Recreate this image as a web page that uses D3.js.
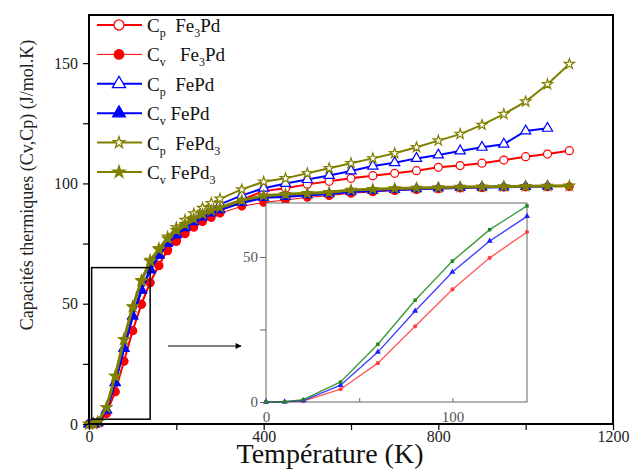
<!DOCTYPE html>
<html><head><meta charset="utf-8">
<script src="https://cdn.jsdelivr.net/npm/d3@7"></script>
<style>body{margin:0;background:#fff;} svg{display:block;font-family:"Liberation Serif","Times New Roman",serif;}</style>
</head><body><svg id="c" width="632" height="471"></svg>
<script>
// ---- data ----
const temps = [0,10,20,40,60,80,100,120,140,160,180,200,220,240,260,280,300,350,400,450,500,550,600,650,700,750,800,850,900,950,1000,1050,1100];
const cvFe3Pd = [0,0.05,0.3,4.4,13.4,26.1,38.8,49.7,58.6,65.7,72.0,75.8,79.0,81.7,84.1,85.8,87.6,90.5,92.1,93.1,94.2,94.9,95.9,96.5,97.0,97.4,97.7,98.0,98.2,98.4,98.5,98.6,98.7];
const cpFe3Pd = [0,0.05,0.3,4.4,13.4,26.1,38.8,49.8,58.8,66.0,72.4,76.3,79.7,82.6,85.2,87.1,89.2,93.2,96.8,98.0,99.6,100.9,102.1,103.2,104.2,105.3,106.7,107.4,108.4,109.7,111.1,112.2,113.6];
const cvFePd = [0,0.08,0.5,5.8,17.2,31.4,44.8,55.5,64.0,70.0,75.0,78.5,81.5,84.0,86.0,87.6,89.0,92.0,94.1,94.5,95.2,95.6,96.5,97.0,97.4,97.7,98.0,98.2,98.4,98.5,98.7,98.8];
const cpFePd = [0,0.08,0.5,5.8,17.2,31.4,44.9,55.7,64.3,70.4,75.6,79.3,82.5,85.3,87.6,89.5,91.3,95.0,98.0,100.0,101.6,103.3,105.2,107.2,108.6,110.4,111.8,113.5,115.0,116.3,121.8,122.9];
const cvFePd3 = [0,0.1,0.8,6.9,19.9,35.1,48.6,59.4,67.6,72.5,77.0,80.5,83.0,85.3,87.2,88.7,90.0,93.0,94.9,95.5,95.9,96.3,97.3,97.6,97.9,98.1,98.3,98.5,98.6,98.7,98.8,98.9,99.0];
const cpFePd3 = [0,0.1,0.8,6.9,19.9,35.2,48.8,59.8,68.2,73.0,77.8,81.7,84.8,87.5,89.8,91.8,93.6,97.5,100.7,102.1,104.2,106.3,108.4,110.4,112.5,115.0,117.8,120.5,124.3,128.8,134.0,141.2,149.6];
const xTicks = [0,400,800,1200];
const yTicks = [0,50,100,150];
const insetXTicks = [0,100];
const insetYTicks = [0,50];
const zoomBox = {t0:6, t1:140, v0:2, v1:65};

const series = [
  {sub:"p", mat:"Fe", matSub:"3", mat2:"Pd", vals:cpFe3Pd, color:"#ff0000", lw:2, sym:d3.symbolCircle, fill:"#fff", size:50, lsize:80, gap:"  "},
  {sub:"v", mat:"Fe", matSub:"3", mat2:"Pd", vals:cvFe3Pd, color:"#ff0000", lw:1, sym:d3.symbolCircle, fill:"#ff0000", size:45, lsize:70, gap:"   "},
  {sub:"p", mat:"FePd", matSub:"", mat2:"", vals:cpFePd, color:"#0000ff", lw:2, sym:d3.symbolTriangle, fill:"#fff", size:45, lsize:75, gap:"  "},
  {sub:"v", mat:"FePd", matSub:"", mat2:"", vals:cvFePd, color:"#0000ff", lw:2.5, sym:d3.symbolTriangle, fill:"#0000ff", size:40, lsize:70, gap:" "},
  {sub:"p", mat:"FePd", matSub:"3", mat2:"", vals:cpFePd3, color:"#808000", lw:2, sym:d3.symbolStar, fill:"#fff", size:32, lsize:40, gap:"  "},
  {sub:"v", mat:"FePd", matSub:"3", mat2:"", vals:cvFePd3, color:"#808000", lw:3, sym:d3.symbolStar, fill:"#808000", size:32, lsize:45, gap:" "}
];
const insetSeries = [
  {vals:cvFe3Pd, color:"#ff4040", sym:d3.symbolCircle, size:14},
  {vals:cvFePd, color:"#2020ff", sym:d3.symbolTriangle, size:16},
  {vals:cvFePd3, color:"#1a8a1a", sym:d3.symbolSquare, size:12}
];

const svg = d3.select("#c");
const x = d3.scaleLinear().domain([0,1200]).range([89,613]);
const y = d3.scaleLinear().domain([0,170]).range([424,15]);

// data area
const pts = vals => vals.map((v,i)=>[temps[i],v]);
const line = d3.line().x(d=>x(d[0])).y(d=>y(d[1]));
series.forEach(s=>{
  svg.append("path").attr("d",line(pts(s.vals))).attr("fill","none").attr("stroke",s.color).attr("stroke-width",s.lw);
  svg.append("g").selectAll("path").data(pts(s.vals)).join("path")
    .attr("transform",d=>`translate(${x(d[0])},${y(d[1])})`)
    .attr("d",d3.symbol().type(s.sym).size(s.size))
    .attr("fill",s.fill).attr("stroke",s.color).attr("stroke-width",1.2);
});

// zoom rectangle
svg.append("rect").attr("x",x(zoomBox.t0)).attr("y",y(zoomBox.v1))
  .attr("width",x(zoomBox.t1)-x(zoomBox.t0)).attr("height",y(zoomBox.v0)-y(zoomBox.v1))
  .attr("fill","none").attr("stroke","#000").attr("stroke-width",1.5);
// arrow
svg.append("defs").append("marker").attr("id","ah").attr("viewBox","0 0 10 10").attr("refX",9).attr("refY",5)
  .attr("markerWidth",8).attr("markerHeight",6).attr("markerUnits","userSpaceOnUse").attr("orient","auto")
  .append("path").attr("d","M0,0L10,5L0,10z").attr("fill","#000");
svg.append("line").attr("x1",168).attr("y1",346).attr("x2",241).attr("y2",346).attr("stroke","#000").attr("stroke-width",1).attr("marker-end","url(#ah)");

// axes
const xa = svg.append("g").attr("transform","translate(0,424)")
  .call(d3.axisBottom(x).tickValues(d3.range(0,1201,200)).tickSize(6).tickFormat(d=>xTicks.includes(d)?d:""));
const ya = svg.append("g").attr("transform","translate(89,0)")
  .call(d3.axisLeft(y).tickValues(d3.range(0,151,25)).tickSize(6).tickFormat(d=>yTicks.includes(d)?d:""));
[xa,ya].forEach(a=>{a.select(".domain").remove(); a.selectAll("line").attr("stroke","#000").attr("stroke-width",1.2);
  a.selectAll("text").attr("font-family","Liberation Serif").attr("font-size",16).attr("fill","#222");});
xa.selectAll("text").attr("y",7);
ya.selectAll("text").attr("x",-11);
svg.append("rect").attr("x",89).attr("y",15).attr("width",524).attr("height",409).attr("fill","none").attr("stroke","#000").attr("stroke-width",2);

// inset
const ix = d3.scaleLinear().domain([0,140]).range([266,527]);
const iy = d3.scaleLinear().domain([0,68.6]).range([402,203]);
const ig = svg.append("g");
ig.append("rect").attr("x",266).attr("y",203).attr("width",261).attr("height",199).attr("fill","#fff").attr("stroke","#666").attr("stroke-width",1);
const ipts = vals => vals.slice(0,9).map((v,i)=>[temps[i],v]);
const iline = d3.line().x(d=>ix(d[0])).y(d=>iy(d[1]));
insetSeries.forEach(s=>{
  ig.append("path").attr("d",iline(ipts(s.vals))).attr("fill","none").attr("stroke",s.color).attr("stroke-width",1.4).attr("stroke-opacity",0.85);
  ig.append("g").selectAll("path").data(ipts(s.vals)).join("path")
    .attr("transform",d=>`translate(${ix(d[0])},${iy(d[1])})`)
    .attr("d",d3.symbol().type(s.sym).size(s.size)).attr("fill",s.color);
});
const ixa = ig.append("g").attr("transform","translate(0,402)")
  .call(d3.axisTop(ix).tickValues([0,50,100]).tickSize(4).tickFormat(""));
const ixl = ig.append("g").attr("transform","translate(0,402)")
  .call(d3.axisBottom(ix).tickValues(insetXTicks).tickSize(0).tickPadding(9));
const iya = ig.append("g").attr("transform","translate(266,0)")
  .call(d3.axisLeft(iy).tickValues([0,25,50]).tickSize(6).tickFormat(d=>insetYTicks.includes(d)?d:""));
[ixa,ixl,iya].forEach(a=>{a.select(".domain").remove(); a.selectAll("line").attr("stroke","#666");
  a.selectAll("text").attr("font-family","Liberation Serif").attr("font-size",15).attr("fill","#555");});
iya.selectAll("text").attr("x",-8);

// legend
const lg = svg.append("g");
series.forEach((s,i)=>{
  const ly = 25 + i*29.4;
  lg.append("line").attr("x1",97).attr("x2",142).attr("y1",ly).attr("y2",ly).attr("stroke",s.color).attr("stroke-width",s.lw===1?1:2);
  lg.append("path").attr("transform",`translate(119,${ly})`).attr("d",d3.symbol().type(s.sym).size(s.lsize))
    .attr("fill",s.fill).attr("stroke",s.color).attr("stroke-width",1.3);
  const t = lg.append("text").attr("x",147).attr("y",ly+7).attr("font-size",19).attr("fill","#111").attr("xml:space","preserve");
  t.append("tspan").text("C");
  t.append("tspan").attr("font-size",12).attr("dy",5).text(s.sub);
  t.append("tspan").attr("dy",-5).text(s.gap + s.mat);
  if(s.matSub){ t.append("tspan").attr("font-size",12).attr("dy",5).text(s.matSub); t.append("tspan").attr("dy",-5).text(s.mat2);}
});

// axis titles
svg.append("text").attr("x",330).attr("y",463).attr("text-anchor","middle").attr("font-size",28).attr("fill","#111").text("Température (K)");
svg.append("text").attr("transform","translate(33,185) rotate(-90)").attr("text-anchor","middle").attr("font-size",18).attr("fill","#222")
  .text("Capacités thermiques (Cv,Cp) (J/mol.K)");
</script></body></html>
